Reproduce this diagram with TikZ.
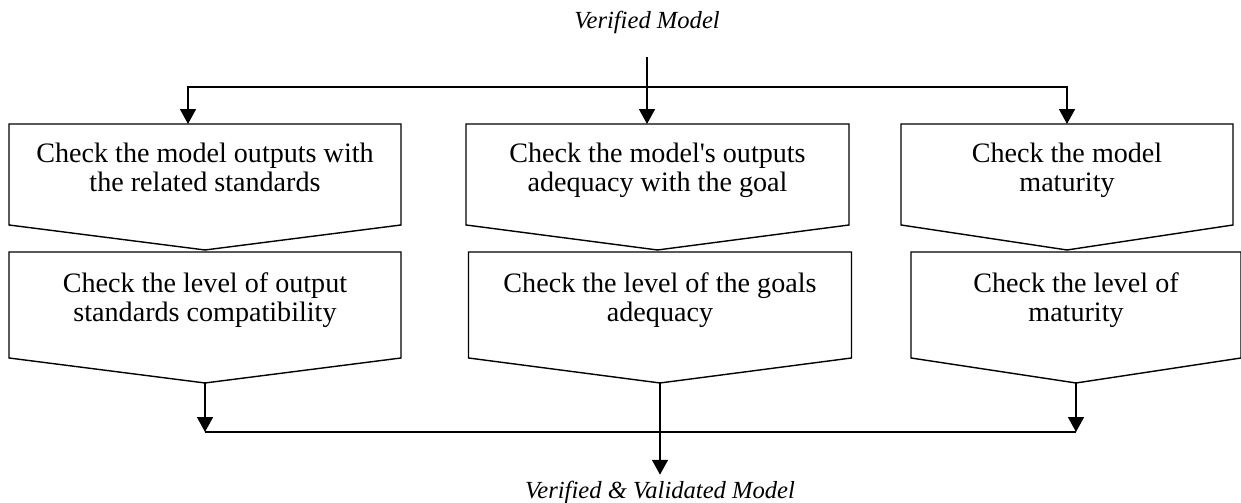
\documentclass[tikz,border=0pt]{standalone}
\usepackage{fontspec}
\setmainfont{Liberation Serif}
\usetikzlibrary{arrows.meta,calc,positioning}
\tikzstyle{chk}=[minimum height=1.98cm,inner sep=0pt,align=center,text depth=0.3cm,font=\fontsize{16}{16.5}\selectfont]
\tikzstyle{lbl}=[inner sep=0pt,font=\fontsize{14}{16}\selectfont\itshape]
\tikzstyle{box}=[draw,line width=0.8pt,line join=miter]

\begin{document}
\begin{tikzpicture}[
      x=0.02cm,y=-0.02cm,
      >={Triangle[length=8.5pt,width=9pt]},
      line width=0.04cm
    ]
      \useasboundingbox (0,0) rectangle (1241,503);

      \node [lbl] (vm) at (647,22) {Verified Model};
      \node [lbl] (vvm) at (660,492) {Verified \& Validated Model};

      \node [chk,minimum width=7.8cm]  (a1) at (205,174.5) {Check the model outputs with\\the related standards};
      \node [chk,minimum width=7.62cm] (b1) at (657.5,174.5) {Check the model\textquotesingle s outputs\\adequacy with the goal};
      \node [chk,minimum width=6.6cm]  (c1) at (1067,174.5) {Check the model\\maturity};

      \node [chk,minimum width=7.8cm,minimum height=2.08cm]  (a2) at (205,305) {Check the level of output\\standards compatibility};
      \node [chk,minimum width=7.62cm,minimum height=2.08cm] (b2) at (660,305) {Check the level of the goals\\adequacy};
      \node [chk,minimum width=6.56cm,minimum height=2.08cm] (c2) at (1076,305) {Check the level of\\maturity};

      \foreach \b in {a1,b1,c1,a2,b2,c2}
        \draw [box] (\b.north west) -- (\b.north east) -- (\b.south east)
          -- ([yshift=-0.5cm]\b.south) coordinate (\b-tip) -- (\b.south west) -- cycle;

      \coordinate (vmout) at (647,57);
      \coordinate (split) at (647,87);
      \coordinate (join) at (660,432);

      \draw[->] (vmout) -- (vmout |- b1.north);
      \draw[->] (split) -| ([xshift=-0.34cm]a1.north);
      \draw[->] (split) -| (c1.north);

      \draw[->] (a2-tip) -- (a2-tip |- join);
      \draw[->] (c2-tip) -- (c2-tip |- join);
      \draw (a2-tip |- join) -- (c2-tip |- join);
      \draw[->] (b2-tip) -- ([yshift=0.1cm]vvm.north -| b2-tip);
    \end{tikzpicture}
\end{document}
